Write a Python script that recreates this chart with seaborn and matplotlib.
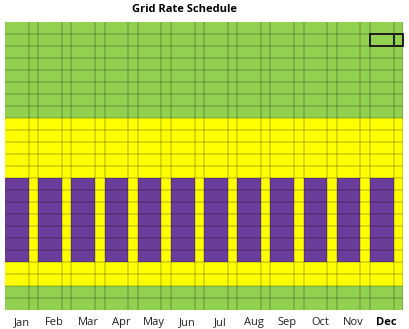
import numpy as np
import matplotlib
matplotlib.use("Agg")
import matplotlib.pyplot as plt
from matplotlib.colors import ListedColormap
from matplotlib.patches import Rectangle
import seaborn as sns

# Rate schedule: 0 = off-peak, 1 = shoulder, 2 = peak
months = ["Jan", "Feb", "Mar", "Apr", "May", "Jun",
          "Jul", "Aug", "Sep", "Oct", "Nov", "Dec"]
hours = list(range(24))
weekday_rates = [0, 0, 0, 0, 0, 0, 0, 0,
                 1, 1, 1, 1, 1,
                 2, 2, 2, 2, 2, 2, 2,
                 1, 1,
                 0, 0]
weekend_rates = [0, 0, 0, 0, 0, 0, 0, 0,
                 1, 1, 1, 1, 1,
                 1, 1, 1, 1, 1, 1, 1,
                 1, 1,
                 0, 0]
rate_colors = ["#92D050", "#FFFF00", "#6A3D9A"]
selected_month = "Dec"
selected_hour = 1

# Each month spans 5 weekday columns and 2 weekend columns
days_weekday, days_weekend = 5, 2
span = days_weekday + days_weekend
cols = []
for m in months:
    cols += [weekday_rates] * days_weekday + [weekend_rates] * days_weekend
grid = np.array(cols).T

sns.set_theme(style="white")
plt.rcParams["font.family"] = ["Open Sans", "DejaVu Sans"]

fig = plt.figure(figsize=(4.09, 3.29), dpi=100)
ax = fig.add_axes([5 / 409, 1 - 310 / 329, 398 / 409, 288 / 329])
sns.heatmap(grid, ax=ax, cmap=ListedColormap(rate_colors), vmin=-0.5, vmax=2.5,
            cbar=False, xticklabels=False, yticklabels=False)

# Grid lines: every hour, plus month and weekday/weekend boundaries
ncol = grid.shape[1]
ax.hlines(np.arange(1, 24), 0, ncol, colors="black", alpha=0.18, linewidth=1.2)
vx = []
for i in range(len(months)):
    vx += [i * span + days_weekday, (i + 1) * span]
ax.vlines(vx, 0, 24, colors="black", alpha=0.18, linewidth=1.2)

# Highlight the selected month/hour cell
si = months.index(selected_month)
ax.add_patch(Rectangle((si * span, selected_hour), span, 1, fill=False,
                       edgecolor="#222222", linewidth=1.4, clip_on=False))
ax.vlines(si * span + days_weekday, selected_hour, selected_hour + 1,
          colors="#222222", linewidth=1.4)

ax.set_xticks(np.arange(len(months)) * span + span / 2)
ax.set_xticklabels(months, fontsize=8, rotation=0, color="#222222")
for lbl in ax.get_xticklabels():
    if lbl.get_text() == selected_month:
        lbl.set_fontweight("bold")
        lbl.set_color("black")
ax.tick_params(axis="x", length=0, pad=5)
ax.set_xlabel("")
ax.set_ylabel("")
for s in ax.spines.values():
    s.set_visible(False)

fig.text(185 / 409, 1 - 10 / 329, "Grid Rate Schedule", ha="center", va="center",
         fontsize=8, fontweight="bold", color="black")

fig.savefig("out.png", dpi=100)
